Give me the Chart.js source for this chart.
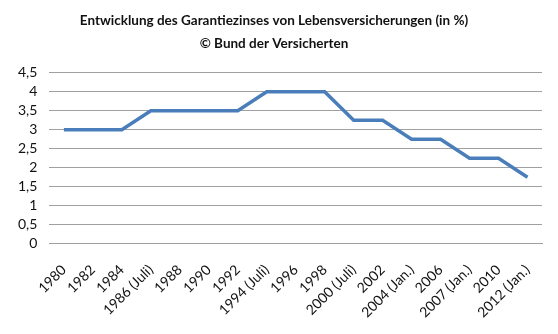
<!DOCTYPE html>
<html>
<head>
<meta charset="utf-8">
<script src="https://cdn.jsdelivr.net/npm/chart.js@4.4.0/dist/chart.umd.min.js"></script>
<style>
  body { margin: 0; background: #fff; }
</style>
</head>
<body>
<canvas id="myChart" width="558" height="334"></canvas>
<script>
// data block
const jahre = ['1980', '1982', '1984', '1986 (Juli)', '1988', '1990', '1992', '1994 (Juli)', '1996', '1998',
    '2000 (Juli)', '2002', '2004 (Jan.)', '2006', '2007 (Jan.)', '2010', '2012 (Jan.)'];
const garantiezins = [3, 3, 3, 3.5, 3.5, 3.5, 3.5, 4, 4, 4, 3.25, 3.25, 2.75, 2.75, 2.25, 2.25, 1.75];
const titel = ['Entwicklung des Garantiezinses von Lebensversicherungen (in %)', '© Bund der Versicherten'];

let data = {
    labels: jahre,
    datasets: [{
        data: garantiezins,
        borderColor: '#4a7ebb',
        borderWidth: 3.5,
        pointRadius: 0,
        tension: 0,
        fill: false
    }]
}

// config block
let config = {
    type: 'line',
    data,
    options: {
        responsive: false,
        animation: false,
        layout: { padding: { left: 6, right: 16, top: 4, bottom: 3 } },
        plugins: {
            legend: { display: false },
            tooltip: { enabled: false },
            title: {
                display: true,
                text: titel,
                color: '#111',
                font: { family: 'Lato', size: 13.5, weight: 'bold', lineHeight: 1.7 },
                padding: { top: 5, bottom: 18 }
            }
        },
        scales: {
            x: {
                offset: true,
                grid: { display: false },
                border: { color: '#a0a0a0', width: 1 },
                ticks: {
                    color: '#111',
                    font: { family: 'Lato', size: 14 },
                    minRotation: 45,
                    maxRotation: 45,
                    autoSkip: false,
                    padding: 10
                }
            },
            y: {
                min: 0,
                max: 4.5,
                grid: { color: '#a0a0a0', lineWidth: 1, drawTicks: false },
                border: { display: false },
                ticks: {
                    stepSize: 0.5,
                    autoSkip: false,
                    color: '#111',
                    font: { family: 'Lato', size: 14 },
                    padding: 12,
                    callback: v => String(v).replace('.', ',')
                }
            }
        }
    }
}

// init block
let myChart = new Chart(document.getElementById('myChart'), config);
</script>
</body>
</html>
